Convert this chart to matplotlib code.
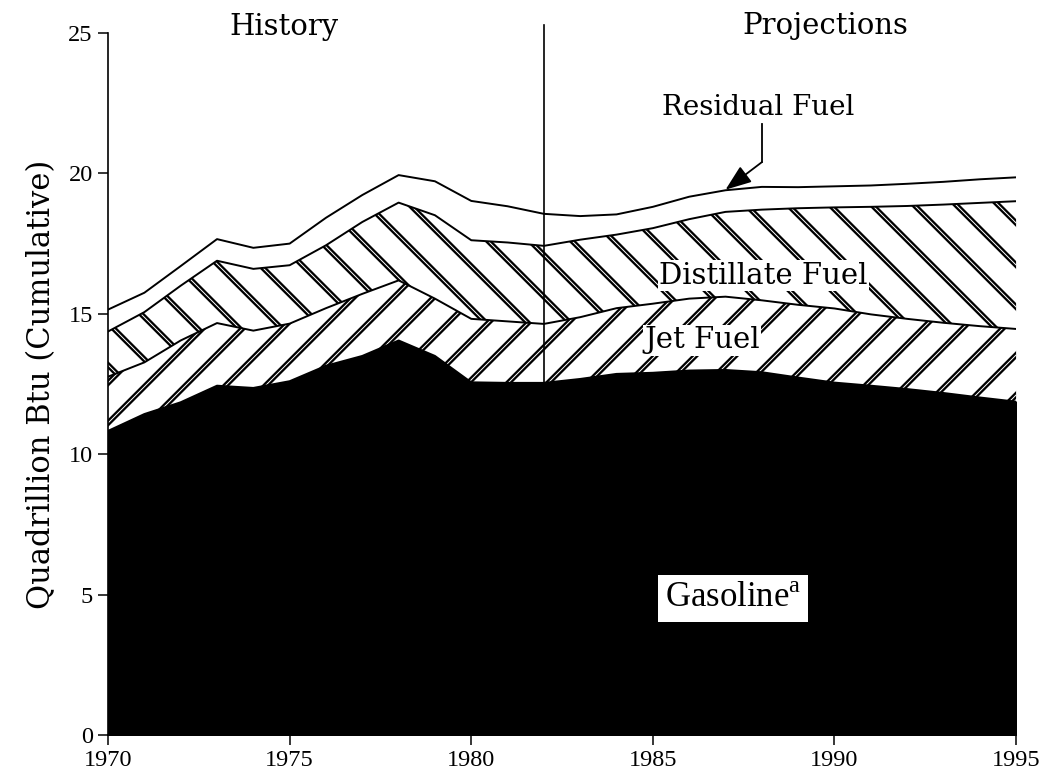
import numpy as np
import matplotlib
matplotlib.use("Agg")
import matplotlib.pyplot as plt
from matplotlib.collections import LineCollection

plt.rcParams["mathtext.fontset"] = "custom"
plt.rcParams["mathtext.rm"] = "Liberation Serif"

# ---------------- data (Quadrillion Btu, by component) ----------------
years = np.arange(1970, 1996)
gasoline = [10.83, 11.43, 11.85, 12.44, 12.36, 12.60, 13.15, 13.50, 14.05, 13.50,
            12.56, 12.54, 12.54, 12.68, 12.86, 12.90, 12.98, 13.00, 12.92, 12.73,
            12.55, 12.44, 12.32, 12.18, 12.02, 11.87]
jet_fuel = [1.93, 1.84, 2.20, 2.23, 2.04, 2.05, 2.05, 2.21, 2.14, 2.04,
            2.26, 2.19, 2.10, 2.20, 2.34, 2.46, 2.56, 2.61, 2.56, 2.59,
            2.64, 2.54, 2.50, 2.50, 2.54, 2.59]
distillate = [1.61, 1.79, 1.95, 2.22, 2.20, 2.08, 2.24, 2.56, 2.77, 2.97,
              2.80, 2.81, 2.78, 2.76, 2.62, 2.69, 2.83, 3.02, 3.23, 3.44,
              3.60, 3.83, 4.02, 4.21, 4.39, 4.55]
residual = [0.78, 0.69, 0.70, 0.77, 0.75, 0.77, 0.98, 0.96, 0.98, 1.21,
            1.40, 1.29, 1.14, 0.84, 0.72, 0.76, 0.80, 0.77, 0.81, 0.75,
            0.75, 0.76, 0.79, 0.81, 0.84, 0.85]
split_year = 1982
xticks = [1970, 1975, 1980, 1985, 1990, 1995]
yticks = [0, 5, 10, 15, 20, 25]

# cumulative levels
c1 = np.array(gasoline)
c2 = c1 + np.array(jet_fuel)
c3 = c2 + np.array(distillate)
c4 = c3 + np.array(residual)

SERIF = ["DejaVu Serif"]
fig = plt.figure(figsize=(10.5, 7.77), dpi=100)
ax = fig.add_axes([0.1029, 0.0541, 0.8648, 0.9034])
ax.set_xlim(1970, 1995)
ax.set_ylim(0, 25)


def hatch(ax, x, lo, hi, sign, spacing_px=40, lw=4.0):
    poly = ax.fill_between(x, lo, hi, facecolor="white", edgecolor="none", zorder=1)
    path = poly.get_paths()[0]
    bb = ax.get_window_extent()
    tr = ax.transData
    inv = tr.inverted()
    segs = []
    w, h = bb.width, bb.height
    for c in np.arange(-h - 50, w + h + 50, spacing_px):
        if sign > 0:   # '/'
            p0 = (bb.x0 + c, bb.y0)
            p1 = (bb.x0 + c + h, bb.y0 + h)
        else:          # '\'
            p0 = (bb.x0 + c, bb.y0 + h)
            p1 = (bb.x0 + c + h, bb.y0)
        segs.append(inv.transform([p0, p1]))
    for col, width in (("black", lw), ("white", 0.7)):
        lc = LineCollection(segs, colors=col, linewidths=width,
                            transform=tr, zorder=2)
        lc.set_clip_path(path, tr)
        ax.add_collection(lc)
    return poly


# gasoline (solid black)
ax.fill_between(years, 0, c1, facecolor="black", edgecolor="black", lw=1, zorder=1)
# jet fuel ('/' hatch)
hatch(ax, years, c1, c2, +1)
# distillate ('\' hatch)
hatch(ax, years, c2, c3, -1, spacing_px=42)
# residual (white)
ax.fill_between(years, c3, c4, facecolor="white", edgecolor="none", zorder=1)

for c in (c1, c2, c3, c4):
    ax.plot(years, c, color="black", lw=1.4, zorder=3)

# history / projection divider
ax.plot([split_year, split_year], [0, 25.3], color="black", lw=1.2,
        zorder=4, clip_on=False)

# axes styling
for s in ("top", "right"):
    ax.spines[s].set_visible(False)
ax.spines["left"].set_linewidth(1.2)
ax.spines["bottom"].set_linewidth(1.2)
ax.set_xticks(xticks)
ax.set_yticks(yticks)
ax.tick_params(axis="both", direction="out", length=7, width=1.1, pad=4,
               labelsize=17.5, labelfontfamily="Liberation Serif")
ax.set_ylabel("Quadrillion Btu (Cumulative)", family=SERIF, fontsize=22,
              labelpad=8)

# annotations
ax.text(1974.85, 25.2, "History", family=SERIF, fontsize=21,
        ha="center", va="center", clip_on=False)
ax.text(1989.75, 25.25, "Projections", family=SERIF, fontsize=21,
        ha="center", va="center", clip_on=False)
ax.text(1987.9, 22.35, "Residual Fuel", family=SERIF, fontsize=20,
        ha="center", va="center")
ax.plot([1988.0, 1988.0], [21.75, 20.4], color="black", lw=1.3, zorder=5)
ax.annotate("", xy=(1987.0, 19.42), xytext=(1988.0, 20.4),
            arrowprops=dict(arrowstyle="-|>,head_length=1.6,head_width=0.6",
                            color="black", lw=1.3, shrinkA=0, shrinkB=0),
            zorder=5)
ax.text(1988.05, 16.35, "Distillate Fuel", family=SERIF, fontsize=21,
        ha="center", va="center", zorder=6,
        bbox=dict(facecolor="white", edgecolor="none", pad=1))
ax.text(1986.35, 14.05, "Jet Fuel", family=SERIF, fontsize=21,
        ha="center", va="center", zorder=6,
        bbox=dict(facecolor="white", edgecolor="none", pad=1))
ax.text(1987.2, 4.85, r"Gasoline$^{\mathrm{a}}$", family=["Liberation Serif"],
        fontsize=25, ha="center", va="center", zorder=6,
        bbox=dict(facecolor="white", edgecolor="none", pad=5))

fig.savefig("out.png", dpi=100)
